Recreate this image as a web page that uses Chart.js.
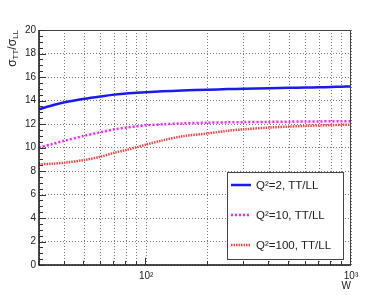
<!DOCTYPE html>
<html>
<head>
<meta charset="utf-8">
<script src="https://cdn.jsdelivr.net/npm/chart.js@4/dist/chart.umd.min.js"></script>
<style>
html,body{margin:0;padding:0;background:#fff;}
#c{display:block;}
</style>
</head>
<body>
<canvas id="c" width="390" height="295"></canvas>
<script>
// ---- data ----
const W = [30,35,40,50,60,70,80,90,100,120,150,200,250,300,400,500,600,700,800,900,1000];
const ttllQ2   = [13.25,13.6,13.85,14.15,14.35,14.5,14.6,14.65,14.7,14.78,14.85,14.92,14.97,15.0,15.05,15.08,15.1,15.12,15.15,15.18,15.2];
const ttllQ10  = [10.0,10.3,10.58,11.0,11.3,11.55,11.69,11.8,11.89,11.97,12.05,12.11,12.14,12.16,12.18,12.2,12.21,12.22,12.23,12.23,12.24];
const ttllQ100 = [8.57,8.62,8.71,8.94,9.22,9.55,9.79,10.02,10.25,10.6,10.95,11.2,11.42,11.55,11.7,11.78,11.84,11.88,11.91,11.93,11.95];
const seriesLabels = ['Q\u00B2=2, TT/LL','Q\u00B2=10, TT/LL','Q\u00B2=100, TT/LL'];
const xTickValues = [30,40,50,60,70,80,90,100,200,300,400,500,600,700,800,900,1000];
const xTickLabels = {100:'10\u00B2', 1000:'10\u00B3'};
const yMin = 0, yMax = 20, yStep = 2, yMinorStep = 0.5;

const FONT = '"Liberation Sans", Arial, Helvetica, sans-serif';
const TXT = '#222';

const pts = arr => W.map((w,i)=>({x:w, y:arr[i]}));

const decor = {
  id:'decor',
  afterDraw(chart){
    const ctx = chart.ctx, a = chart.chartArea;
    const xs = chart.scales.x, ys = chart.scales.y;
    ctx.save();
    // frame
    ctx.strokeStyle = '#444'; ctx.lineWidth = 1; ctx.setLineDash([]);
    ctx.beginPath();
    ctx.moveTo(a.left, a.top+0.5); ctx.lineTo(a.right-0.5, a.top+0.5); ctx.lineTo(a.right-0.5, a.bottom);
    ctx.stroke();
    // axis lines
    ctx.strokeStyle = '#111'; ctx.lineWidth = 1.5;
    ctx.beginPath();
    ctx.moveTo(a.left, a.top); ctx.lineTo(a.left, a.bottom); ctx.lineTo(a.right, a.bottom);
    ctx.stroke();
    // y ticks (inside)
    ctx.lineWidth = 1; ctx.strokeStyle = '#333';
    ctx.beginPath();
    for (let v = yMin; v <= yMax + 1e-9; v += yMinorStep) {
      const y = Math.round(ys.getPixelForValue(v)) + 0.5;
      const major = Math.abs(v / yStep - Math.round(v / yStep)) < 1e-6;
      const len = major ? 7 : 4;
      ctx.moveTo(a.left, y); ctx.lineTo(a.left + len, y);
    }
    // x ticks (inside)
    for (const v of xTickValues) {
      const x = Math.round(xs.getPixelForValue(v)) - 0.5;
      const len = (v === 100 || v === 1000) ? 7 : 4;
      ctx.moveTo(x, a.bottom); ctx.lineTo(x, a.bottom - len);
    }
    ctx.stroke();

    // x title
    ctx.fillStyle = TXT;
    ctx.font = '10px ' + FONT;
    ctx.textAlign = 'right'; ctx.textBaseline = 'alphabetic';
    ctx.fillText('W', a.right, 289);

    // y title (rotated), sigma_TT / sigma_LL
    ctx.save();
    ctx.translate(15.5, a.top);
    ctx.rotate(-Math.PI/2);
    const parts = [
      {t:'\u03C3', f:'12px ', dy:0},
      {t:'TT', f:'8px ', dy:2.5},
      {t:'/', f:'12px ', dy:0},
      {t:'\u03C3', f:'12px ', dy:0},
      {t:'LL', f:'8px ', dy:2.5}
    ];
    let total = 0;
    for (const p of parts) { ctx.font = p.f + FONT; p.w = ctx.measureText(p.t).width; total += p.w; }
    let x0 = -total;
    ctx.textAlign = 'left';
    for (const p of parts) { ctx.font = p.f + FONT; ctx.fillText(p.t, x0, p.dy); x0 += p.w; }
    ctx.restore();

    // legend
    const lx = 227, ly = 172, lw = 116, lh = 87;
    ctx.fillStyle = '#fff';
    ctx.fillRect(lx, ly, lw, lh);
    ctx.strokeStyle = '#444'; ctx.lineWidth = 1; ctx.setLineDash([]);
    ctx.strokeRect(lx + 0.5, ly + 0.5, lw, lh);
    const rowY = [185, 215, 245];
    chart.data.datasets.forEach((ds, i) => {
      const y = rowY[i];
      ctx.save();
      ctx.strokeStyle = ds.borderColor; ctx.lineWidth = ds.borderWidth;
      ctx.setLineDash(ds.borderDash || []);
      ctx.beginPath(); ctx.moveTo(231, y); ctx.lineTo(251, y); ctx.stroke();
      ctx.restore();
      ctx.fillStyle = TXT; ctx.font = '11.5px ' + FONT;
      ctx.textAlign = 'left'; ctx.textBaseline = 'middle';
      ctx.fillText(ds.label, 256, y + 1);
    });
    ctx.restore();
  }
};

new Chart(document.getElementById('c'), {
  type: 'line',
  data: {
    datasets: [
      {label: seriesLabels[0], data: pts(ttllQ2), borderColor:'#1a1aee', borderWidth:2.5, pointRadius:0, tension:0.3, fill:false},
      {label: seriesLabels[1], data: pts(ttllQ10), borderColor:'#ff22ff', borderWidth:2.5, borderDash:[2,2], pointRadius:0, tension:0.3, fill:false},
      {label: seriesLabels[2], data: pts(ttllQ100), borderColor:'#ff4646', borderWidth:2.5, borderDash:[1.5,1], pointRadius:0, tension:0.3, fill:false}
    ]
  },
  options: {
    responsive:false, animation:false, devicePixelRatio:1,
    layout:{padding:{left:0, right:39, top:30, bottom:0}},
    plugins:{legend:{display:false}, tooltip:{enabled:false}},
    scales:{
      x:{
        type:'logarithmic', min:30, max:1000,
        afterBuildTicks: s => { s.ticks = xTickValues.map(v=>({value:v})); },
        afterFit: s => { s.height = 30; },
        grid:{color:'#7a7a7a', lineWidth:1, drawTicks:false},
        border:{display:false, dash:[1,2]},
        ticks:{autoSkip:false, maxRotation:0, padding:5, color:TXT, font:{family:FONT, size:10},
          callback: v => xTickLabels[v] || ''}
      },
      y:{
        min:yMin, max:yMax,
        afterFit: s => { s.width = 39; },
        grid:{color:'#7a7a7a', lineWidth:1, drawTicks:false},
        border:{display:false, dash:[1,2]},
        ticks:{stepSize:yStep, padding:3, color:TXT, font:{family:FONT, size:10}}
      }
    }
  },
  plugins:[decor]
});
</script>
</body>
</html>
